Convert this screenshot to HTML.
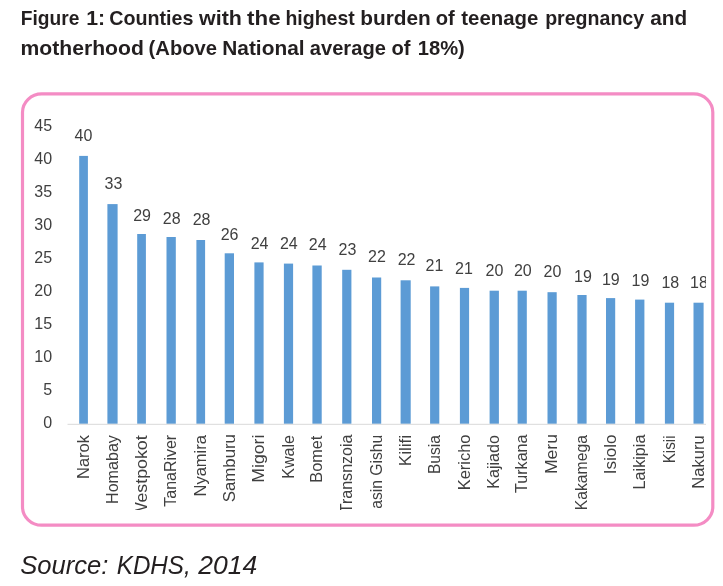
<!DOCTYPE html>
<html lang="en">
<head>
<meta charset="utf-8">
<title>Figure 1: Counties with the highest burden of teenage pregnancy and motherhood</title>
<style>
html,body{margin:0;padding:0;background:#fff;}
body{width:723px;height:586px;overflow:hidden;}
svg{display:block;}
text{font-family:"Liberation Sans",sans-serif;}
.t{font-weight:bold;font-size:20.6px;fill:#231f20;}
.s{font-style:italic;font-size:26px;fill:#231f20;}
.c{font-size:16px;fill:#3f3f3f;}
.r{font-size:17px;}
</style>
</head>
<body>
<svg width="723" height="586" viewBox="0 0 723 586">
<rect x="0" y="0" width="723" height="586" fill="#ffffff"/>
<text class="t" y="24.7"><tspan x="20.80" textLength="58.57" lengthAdjust="spacingAndGlyphs">Figure</tspan> <tspan x="86.24" textLength="18.91" lengthAdjust="spacingAndGlyphs">1:</tspan> <tspan x="109.23" textLength="84.28" lengthAdjust="spacingAndGlyphs">Counties</tspan> <tspan x="199.10" textLength="42.78" lengthAdjust="spacingAndGlyphs">with</tspan> <tspan x="247.14" textLength="33.53" lengthAdjust="spacingAndGlyphs">the</tspan> <tspan x="285.46" textLength="69.30" lengthAdjust="spacingAndGlyphs">highest</tspan> <tspan x="360.25" textLength="70.61" lengthAdjust="spacingAndGlyphs">burden</tspan> <tspan x="435.66" textLength="19.03" lengthAdjust="spacingAndGlyphs">of</tspan> <tspan x="461.34" textLength="77.01" lengthAdjust="spacingAndGlyphs">teenage</tspan> <tspan x="545.13" textLength="99.02" lengthAdjust="spacingAndGlyphs">pregnancy</tspan> <tspan x="650.31" textLength="36.87" lengthAdjust="spacingAndGlyphs">and</tspan></text>
<text class="t" y="54.7"><tspan x="20.56" textLength="123.32" lengthAdjust="spacingAndGlyphs">motherhood</tspan> <tspan x="148.57" textLength="68.55" lengthAdjust="spacingAndGlyphs">(Above</tspan> <tspan x="222.21" textLength="82.34" lengthAdjust="spacingAndGlyphs">National</tspan> <tspan x="309.84" textLength="76.03" lengthAdjust="spacingAndGlyphs">average</tspan> <tspan x="391.47" textLength="19.03" lengthAdjust="spacingAndGlyphs">of</tspan> <tspan x="417.69" textLength="47.11" lengthAdjust="spacingAndGlyphs">18%)</tspan></text>
<rect x="22.5" y="93.9" width="690.3" height="431.3" rx="19.2" ry="18.4" fill="#ffffff" stroke="#f48cc4" stroke-width="3.2"/>
<defs><clipPath id="cp"><rect x="25" y="97" width="681" height="412.6"/></clipPath><filter id="soft" x="-5%" y="-5%" width="110%" height="110%"><feGaussianBlur stdDeviation="0.42"/></filter></defs>
<g clip-path="url(#cp)"><g filter="url(#soft)">
<text class="c" x="52.1" y="428.1" text-anchor="end">0</text>
<text class="c" x="52.1" y="395.1" text-anchor="end">5</text>
<text class="c" x="52.1" y="362.1" text-anchor="end">10</text>
<text class="c" x="52.1" y="329.1" text-anchor="end">15</text>
<text class="c" x="52.1" y="296.1" text-anchor="end">20</text>
<text class="c" x="52.1" y="263.1" text-anchor="end">25</text>
<text class="c" x="52.1" y="230.1" text-anchor="end">30</text>
<text class="c" x="52.1" y="197.1" text-anchor="end">35</text>
<text class="c" x="52.1" y="164.1" text-anchor="end">40</text>
<text class="c" x="52.1" y="131.1" text-anchor="end">45</text>
<rect x="79.2" y="155.9" width="8.7" height="267.9" fill="#5b9bd5"/>
<rect x="107.4" y="204.1" width="10.2" height="219.7" fill="#5b9bd5"/>
<rect x="137.2" y="234.0" width="8.7" height="189.8" fill="#5b9bd5"/>
<rect x="166.5" y="237.0" width="9.3" height="186.8" fill="#5b9bd5"/>
<rect x="196.4" y="240.0" width="8.7" height="183.8" fill="#5b9bd5"/>
<rect x="224.7" y="253.3" width="9.3" height="170.5" fill="#5b9bd5"/>
<rect x="254.4" y="262.4" width="9.2" height="161.4" fill="#5b9bd5"/>
<rect x="283.9" y="263.6" width="9.2" height="160.2" fill="#5b9bd5"/>
<rect x="312.4" y="265.5" width="9.3" height="158.3" fill="#5b9bd5"/>
<rect x="342.2" y="269.8" width="9.2" height="154.0" fill="#5b9bd5"/>
<rect x="372.0" y="277.5" width="9.2" height="146.3" fill="#5b9bd5"/>
<rect x="400.6" y="280.3" width="10.1" height="143.5" fill="#5b9bd5"/>
<rect x="430.1" y="286.4" width="9.2" height="137.4" fill="#5b9bd5"/>
<rect x="459.9" y="287.9" width="9.2" height="135.9" fill="#5b9bd5"/>
<rect x="489.6" y="290.7" width="9.3" height="133.1" fill="#5b9bd5"/>
<rect x="517.6" y="290.7" width="9.2" height="133.1" fill="#5b9bd5"/>
<rect x="547.5" y="292.2" width="9.2" height="131.6" fill="#5b9bd5"/>
<rect x="577.4" y="295.0" width="9.2" height="128.8" fill="#5b9bd5"/>
<rect x="606.0" y="298.1" width="9.2" height="125.7" fill="#5b9bd5"/>
<rect x="635.1" y="299.6" width="9.3" height="124.2" fill="#5b9bd5"/>
<rect x="664.9" y="302.7" width="9.2" height="121.1" fill="#5b9bd5"/>
<rect x="693.5" y="302.7" width="10.1" height="121.1" fill="#5b9bd5"/>
<rect x="67.5" y="423.8" width="640" height="1" fill="#d9d9d9"/>
<text class="c" x="83.4" y="141.2" text-anchor="middle">40</text>
<text class="c" x="113.5" y="188.9" text-anchor="middle">33</text>
<text class="c" x="142.1" y="220.5" text-anchor="middle">29</text>
<text class="c" x="171.7" y="223.7" text-anchor="middle">28</text>
<text class="c" x="201.6" y="225.2" text-anchor="middle">28</text>
<text class="c" x="229.6" y="240.2" text-anchor="middle">26</text>
<text class="c" x="259.6" y="248.6" text-anchor="middle">24</text>
<text class="c" x="288.8" y="248.6" text-anchor="middle">24</text>
<text class="c" x="317.7" y="250.2" text-anchor="middle">24</text>
<text class="c" x="347.5" y="254.7" text-anchor="middle">23</text>
<text class="c" x="376.9" y="262.1" text-anchor="middle">22</text>
<text class="c" x="406.6" y="264.8" text-anchor="middle">22</text>
<text class="c" x="434.5" y="270.8" text-anchor="middle">21</text>
<text class="c" x="464.0" y="273.8" text-anchor="middle">21</text>
<text class="c" x="494.4" y="275.8" text-anchor="middle">20</text>
<text class="c" x="522.8" y="275.8" text-anchor="middle">20</text>
<text class="c" x="552.4" y="276.9" text-anchor="middle">20</text>
<text class="c" x="582.9" y="282.2" text-anchor="middle">19</text>
<text class="c" x="610.8" y="285.0" text-anchor="middle">19</text>
<text class="c" x="640.5" y="286.1" text-anchor="middle">19</text>
<text class="c" x="670.3" y="287.8" text-anchor="middle">18</text>
<text class="c" x="699.0" y="287.8" text-anchor="middle">18</text>
<text class="c r" transform="translate(88.8 435.10) rotate(-90)" text-anchor="end" textLength="43.91" lengthAdjust="spacingAndGlyphs">Narok</text>
<text class="c r" transform="translate(117.7 435.09) rotate(-90)" text-anchor="end" textLength="68.89" lengthAdjust="spacingAndGlyphs">Homabay</text>
<text class="c r" transform="translate(146.8 435.30) rotate(-90)" text-anchor="end" textLength="83.70" lengthAdjust="spacingAndGlyphs">Westpokot</text>
<text class="c r" transform="translate(176.3 434.85) rotate(-90)" text-anchor="end" textLength="71.86" lengthAdjust="spacingAndGlyphs">TanaRiver</text>
<text class="c r" transform="translate(205.9 435.10) rotate(-90)" text-anchor="end" textLength="61.39" lengthAdjust="spacingAndGlyphs">Nyamira</text>
<text class="c r" transform="translate(234.5 434.08) rotate(-90)" text-anchor="end" textLength="68.17" lengthAdjust="spacingAndGlyphs">Samburu</text>
<text class="c r" transform="translate(264.2 434.55) rotate(-90)" text-anchor="end" textLength="48.25" lengthAdjust="spacingAndGlyphs">Migori</text>
<text class="c r" transform="translate(293.7 435.08) rotate(-90)" text-anchor="end" textLength="43.72" lengthAdjust="spacingAndGlyphs">Kwale</text>
<text class="c r" transform="translate(322.2 435.60) rotate(-90)" text-anchor="end" textLength="47.16" lengthAdjust="spacingAndGlyphs">Bomet</text>
<text class="c r" transform="translate(352.0 434.50) rotate(-90)" text-anchor="end" textLength="78.80" lengthAdjust="spacingAndGlyphs">Transnzoia</text>
<text class="c r" transform="translate(381.8 434.90) rotate(-90)" text-anchor="end" textLength="85.00" lengthAdjust="spacingAndGlyphs">Uasin Gishu</text>
<text class="c r" transform="translate(410.8 434.89) rotate(-90)" text-anchor="end" textLength="31.33" lengthAdjust="spacingAndGlyphs">Kilifi</text>
<text class="c r" transform="translate(439.9 435.10) rotate(-90)" text-anchor="end" textLength="38.91" lengthAdjust="spacingAndGlyphs">Busia</text>
<text class="c r" transform="translate(469.7 434.58) rotate(-90)" text-anchor="end" textLength="55.69" lengthAdjust="spacingAndGlyphs">Kericho</text>
<text class="c r" transform="translate(499.4 435.08) rotate(-90)" text-anchor="end" textLength="53.69" lengthAdjust="spacingAndGlyphs">Kajiado</text>
<text class="c r" transform="translate(527.4 434.55) rotate(-90)" text-anchor="end" textLength="58.36" lengthAdjust="spacingAndGlyphs">Turkana</text>
<text class="c r" transform="translate(557.3 434.04) rotate(-90)" text-anchor="end" textLength="40.04" lengthAdjust="spacingAndGlyphs">Meru</text>
<text class="c r" transform="translate(587.2 435.10) rotate(-90)" text-anchor="end" textLength="75.13" lengthAdjust="spacingAndGlyphs">Kakamega</text>
<text class="c r" transform="translate(615.8 434.57) rotate(-90)" text-anchor="end" textLength="39.76" lengthAdjust="spacingAndGlyphs">Isiolo</text>
<text class="c r" transform="translate(645.0 434.55) rotate(-90)" text-anchor="end" textLength="54.89" lengthAdjust="spacingAndGlyphs">Laikipia</text>
<text class="c r" transform="translate(674.7 435.49) rotate(-90)" text-anchor="end" textLength="27.81" lengthAdjust="spacingAndGlyphs">Kisii</text>
<text class="c r" transform="translate(703.8 435.25) rotate(-90)" text-anchor="end" textLength="53.49" lengthAdjust="spacingAndGlyphs">Nakuru</text>
</g></g>
<text class="s" y="573.6"><tspan x="20.18" textLength="88.29" lengthAdjust="spacingAndGlyphs">Source:</tspan> <tspan x="116.76" textLength="73.92" lengthAdjust="spacingAndGlyphs">KDHS,</tspan> <tspan x="198.15" textLength="59.02" lengthAdjust="spacingAndGlyphs">2014</tspan></text>
</svg>
</body>
</html>
